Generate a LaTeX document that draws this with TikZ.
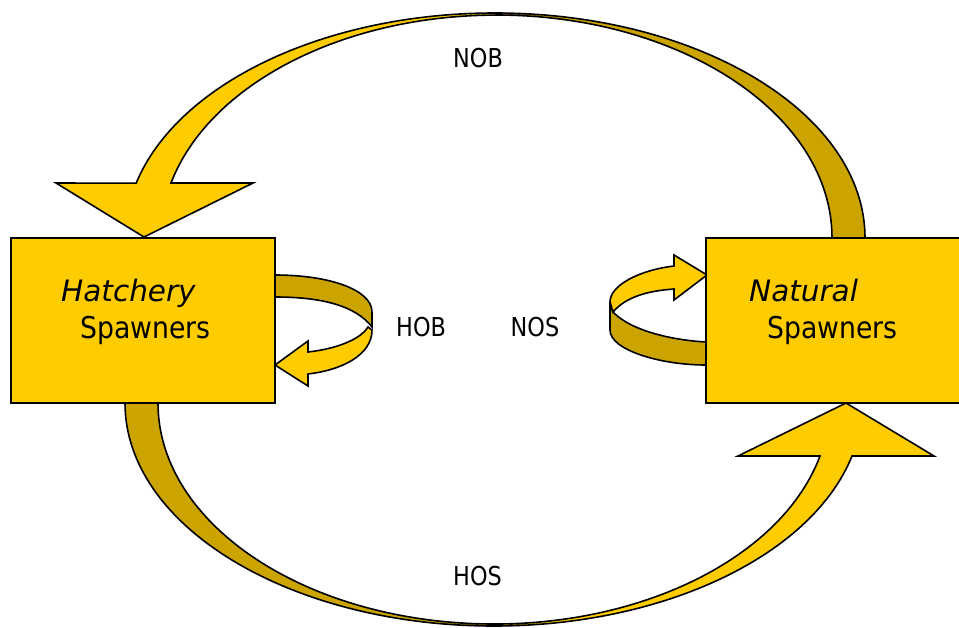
\documentclass[tikz,border=0pt]{standalone}
\usepackage{fontspec}
\setmainfont{DejaVu Sans}
\newfontfamily\narrowfont[FakeStretch=0.89]{DejaVu Sans}
\newfontfamily\labelfont[FakeStretch=0.86]{DejaVu Sans}
\definecolor{gold}{HTML}{FFCC00}
\definecolor{darkgold}{HTML}{CCA400}
\begin{document}
\begin{tikzpicture}[x=1pt, y=-1pt,
        spawnbox/.style={rectangle, draw=black, line width=1.6pt, fill=gold, minimum width=264pt, minimum height=165pt, inner sep=0pt},
        front/.style={fill=gold, draw=black, line width=1.6pt, line join=miter},
        back/.style={fill=darkgold, draw=black, line width=1.6pt},
        boxtext/.style={anchor=base west, inner sep=0pt, font=\narrowfont\fontsize{30}{34}\selectfont},
        kindtext/.style={anchor=base west, inner sep=0pt, font=\fontsize{29.5}{34}\selectfont\itshape},
        flowtext/.style={anchor=base west, inner sep=0pt, font=\labelfont\fontsize{26}{30}\selectfont},]

        \useasboundingbox (0,0) rectangle (959,627);

        % NOB: natural -> hatchery, over the top
        \draw[back] (865,238) arc[start angle=0, end angle=-90, x radius=370, y radius=225]
            -- (496,15) arc[start angle=-90, end angle=0, x radius=336, y radius=223] -- cycle;
        \draw[front] (495,13) arc[start angle=-90, end angle=-165.9, x radius=370, y radius=225]
            -- (56,183) -- (144,237) -- (253,183) -- (171,183)
            arc[start angle=-165.7, end angle=-90, x radius=336, y radius=223] -- cycle;

        % HOS: hatchery -> natural, under the bottom
        \draw[back] (125,403) arc[start angle=180, end angle=90, x radius=368.8, y radius=223]
            -- (493.9,624) arc[start angle=90, end angle=180, x radius=335.9, y radius=221] -- cycle;
        \draw[front] (493.8,626) arc[start angle=90, end angle=13.75, x radius=368.8, y radius=223]
            -- (934,456) -- (846,403) -- (738,456) -- (820,456)
            arc[start angle=13.87, end angle=90, x radius=335.9, y radius=221] -- cycle;

        % HOB loop
        \draw[back] (275,275) .. controls (330,275) and (372,290) .. (372,312) -- (372,327)
            .. controls (355,305) and (320,297) .. (275,297) -- cycle;
        \draw[front] (368,327) .. controls (360,340) and (335,349) .. (308,352)
            -- (308,341) -- (275,365) -- (308,386) -- (308,374)
            .. controls (342,370) and (372,355) .. (372,330) -- cycle;

        % NOS loop
        \draw[back] (613,312) .. controls (630,330) and (670,340) .. (706,342) -- (706,365)
            .. controls (660,365) and (610,350) .. (610,330) -- (610,305) -- cycle;
        \draw[front] (674,266) .. controls (640,270) and (610,285) .. (610,302) -- (613,312)
            .. controls (625,298) and (645,291) .. (674,289)
            -- (674,300) -- (707,275) -- (674,255) -- cycle;

        % Spawners
        \node[spawnbox] (hatch) at (143,320.5) {};
        \node[spawnbox] (nat) at (838,320.5) {};
        \node[kindtext] (hatch1) at (61,301.5) {Hatchery};
        \node[boxtext] (hatch2) at (80,338.5) {Spawners};
        \node[kindtext] (nat1) at (749,301.5) {Natural};
        \node[boxtext] (nat2) at (767,338.5) {Spawners};

        % Flow labels
        \node[flowtext] (nob) at (453,67) {NOB};
        \node[flowtext] (hob) at (396,336.5) {HOB};
        \node[flowtext] (nos) at (510.5,336.5) {NOS};
        \node[flowtext] (hos) at (453,585.5) {HOS};
    \end{tikzpicture}
\end{document}
